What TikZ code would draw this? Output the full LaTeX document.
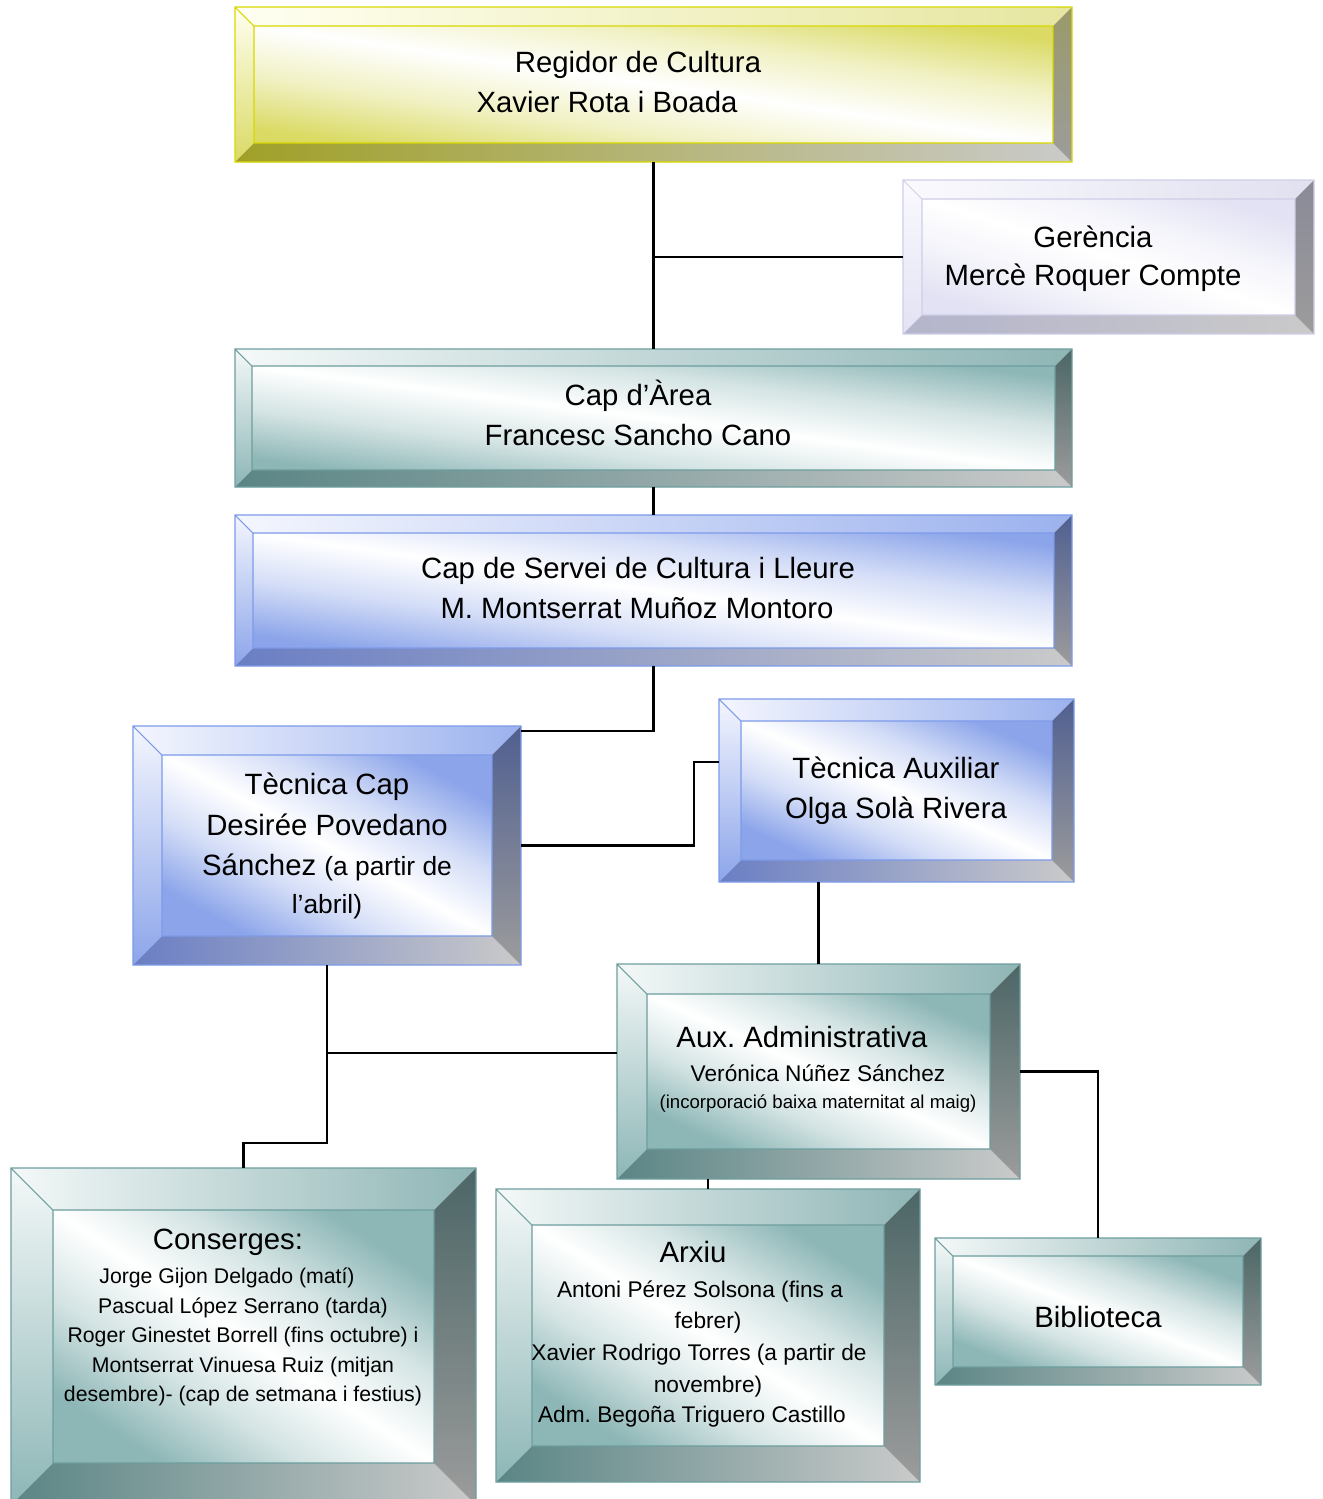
\documentclass[tikz,border=0pt]{standalone}
\usepackage{fontspec}
\setmainfont{Liberation Sans}
\usetikzlibrary{calc}
% colour schemes: W (light), T (top face right), L (inner corners), B (bottom face left), R (right face top), E (edge)
\definecolor{yelW}{HTML}{FFFFF2}\definecolor{yelT}{HTML}{E6E6A0}\definecolor{yelL}{HTML}{DADA64}
\definecolor{yelB}{HTML}{A0A028}\definecolor{yelR}{HTML}{9A9A6A}\definecolor{yelE}{HTML}{D8D800}
\definecolor{tealW}{HTML}{F4F8F8}\definecolor{tealT}{HTML}{8FB5B5}\definecolor{tealL}{HTML}{8DB6B6}
\definecolor{tealB}{HTML}{5B8585}\definecolor{tealR}{HTML}{4C6666}\definecolor{tealE}{HTML}{6E9E9E}
\definecolor{bluW}{HTML}{F4F6FE}\definecolor{bluT}{HTML}{9CB2EE}\definecolor{bluL}{HTML}{8CA5EA}
\definecolor{bluB}{HTML}{6A7EC4}\definecolor{bluR}{HTML}{505F90}\definecolor{bluE}{HTML}{7D9BEA}
\definecolor{lavW}{HTML}{FAFAFE}\definecolor{lavT}{HTML}{E0E0F0}\definecolor{lavL}{HTML}{E2E2F4}
\definecolor{lavB}{HTML}{B4B4CC}\definecolor{lavR}{HTML}{8A8A98}\definecolor{lavE}{HTML}{CFCFE8}
\definecolor{grayB}{HTML}{CACACA}\definecolor{grayR}{HTML}{9C9C9C}
\colorlet{bevL}{white}
\pgfdeclareverticalshading[bevL]{bevinner}{100bp}{%
  color(0bp)=(bevL); color(25bp)=(bevL); color(38bp)=(bevL!38!white);
  color(50bp)=(white); color(62bp)=(bevL!38!white);
  color(75bp)=(bevL); color(100bp)=(bevL)}
\newcommand\bevbox[7]{%
  % #1 name, #2 x1, #3 y1, #4 x2, #5 y2, #6 bevel, #7 scheme
  \colorlet{bevL}{#7L}%
  \pgfmathsetmacro\bevang{-atan((#5-#3-2*#6)/(#4-#2-2*#6))}%
  \shade[shading=bevinner, shading angle=\bevang]
    ({#2+#6},{#3+#6}) rectangle ({#4-#6},{#5-#6});
  \shade[left color=#7W, right color=#7T]
    (#2,#3) -- (#4,#3) -- ({#4-#6},{#3+#6}) -- ({#2+#6},{#3+#6}) -- cycle;
  \shade[top color=#7W, bottom color=#7L]
    (#2,#3) -- ({#2+#6},{#3+#6}) -- ({#2+#6},{#5-#6}) -- (#2,#5) -- cycle;
  \shade[left color=#7B, right color=grayB]
    (#2,#5) -- ({#2+#6},{#5-#6}) -- ({#4-#6},{#5-#6}) -- (#4,#5) -- cycle;
  \shade[top color=#7R, bottom color=grayR]
    (#4,#3) -- (#4,#5) -- ({#4-#6},{#5-#6}) -- ({#4-#6},{#3+#6}) -- cycle;
  \draw[#7E, line width=0.6pt]
    (#2,#3) rectangle (#4,#5) ({#2+#6},{#3+#6}) rectangle ({#4-#6},{#5-#6})
    (#2,#3) -- ({#2+#6},{#3+#6});
  \node[inner sep=0, outer sep=0, minimum width={(#4-#2)*0.02cm}, minimum height={(#5-#3)*0.02cm}]
    (#1) at ({(#2+#4)/2},{(#3+#5)/2}) {};
}
\tikzset{
  txt/.style={anchor=base, inner sep=0, text=black},
  fA/.style={font=\fontsize{16.7}{20}\selectfont},
  fS/.style={font=\fontsize{15}{18}\selectfont},
  fB/.style={font=\fontsize{12.9}{15}\selectfont},
  fC/.style={font=\fontsize{12.1}{15}\selectfont},
  fE/.style={font=\fontsize{12.9}{15}\selectfont},
  fD/.style={font=\fontsize{10.6}{13}\selectfont},
  link/.style={draw=black, line width=1.2pt}
}
\begin{document}
\frenchspacing
\begin{tikzpicture}[x=0.02cm, y=-0.02cm]
\useasboundingbox[fill=white] (0,0) rectangle (1323,1499);
\begin{scope}
\clip (0,0) rectangle (1323,1499);
% junction coordinates
\coordinate (j1) at (654,731);
\coordinate (j2) at (694,762);
\coordinate (j4) at (327,1143);
\coordinate (j5) at (327,1053);

% boxes
\bevbox{reg}{235}{7}{1072}{162}{19}{yel}
\bevbox{ger}{903}{180}{1314}{334}{19}{lav}
\bevbox{area}{235}{349}{1072}{487}{17}{teal}
\bevbox{serv}{235}{515}{1072}{666}{18}{blu}
\bevbox{tcap}{133}{726}{521}{965}{29}{blu}
\bevbox{taux}{719}{699}{1074}{882}{22}{blu}
\bevbox{aux}{617}{964}{1020}{1179}{30}{teal}
\bevbox{cons}{11}{1168}{476}{1505}{42}{teal}
\bevbox{arx}{496}{1189}{920}{1482}{36}{teal}
\bevbox{bib}{935}{1238}{1261}{1385}{18}{teal}

% connectors
\draw[link] (reg.south) -- (area.north);
\draw[link] (ger.west) -- (ger.west -| reg.south);
\draw[link] (area.south) -- (serv.north);
\draw[link] (serv.south) |- (tcap.east |- j1);
\draw[link] (tcap.east) -| (j2) -- (taux.west |- j2);
\draw[link] (aux.north) -- (aux.north |- taux.south);
\draw[link] (tcap.south) -- (j4) -| (cons.north);
\draw[link] (j5) -- (aux.west |- j5);
\draw[link] (arx.north) -- (arx.north |- aux.south);
\draw[link] (aux.east) -| (bib.north);

% texts
\node[txt,fA] (t-reg1) at (638,72) {Regidor de Cultura};
\node[txt,fA] (t-reg2) at (607,112) {Xavier Rota i Boada};
\node[txt,fA] (t-ger1) at (1093,247) {Gerència};
\node[txt,fA] (t-ger2) at (1093,285) {Mercè Roquer Compte};
\node[txt,fA] (t-area1) at (638,405) {Cap d’Àrea};
\node[txt,fA] (t-area2) at (638,445) {Francesc Sancho Cano};
\node[txt,fA] (t-serv1) at (638,578) {Cap de Servei de Cultura i Lleure};
\node[txt,fA] (t-serv2) at (637,618) {M. Montserrat Muñoz Montoro};
\node[txt,fA] (t-tcap1) at (327,794) {Tècnica Cap};
\node[txt,fA] (t-tcap2) at (327,835) {Desirée Povedano};
\node[txt,fA] (t-tcap3) at (327,875) {Sánchez {\fontsize{15}{18}\selectfont(a partir de}};
\node[txt,fS] (t-tcap4) at (327,913) {l’abril)};
\node[txt,fA] (t-taux1) at (896,778) {Tècnica Auxiliar};
\node[txt,fA] (t-taux2) at (896,818) {Olga Solà Rivera};
\node[txt,fA] (t-aux1) at (802,1047) {Aux. Administrativa};
\node[txt,fB] (t-aux2) at (818,1081) {Verónica Núñez Sánchez};
\node[txt,fD] (t-aux3) at (818,1108) {(incorporació baixa maternitat al maig)};
\node[txt,fA] (t-cons1) at (228,1249) {Conserges:};
\node[txt,fC] (t-cons2) at (227,1283) {Jorge Gijon Delgado (matí)};
\node[txt,fC] (t-cons3) at (243,1313) {Pascual López Serrano (tarda)};
\node[txt,fC] (t-cons4) at (243,1342) {Roger Ginestet Borrell (fins octubre) i};
\node[txt,fC] (t-cons5) at (243,1372) {Montserrat Vinuesa Ruiz (mitjan};
\node[txt,fC] (t-cons6) at (243,1401) {desembre)- (cap de setmana i festius)};
\node[txt,fA] (t-arx1) at (693,1262) {Arxiu};
\node[txt,fE] (t-arx2) at (700,1297) {Antoni Pérez Solsona (fins a};
\node[txt,fE] (t-arx3) at (708,1328) {febrer)};
\node[txt,fE] (t-arx4) at (699,1360) {Xavier Rodrigo Torres (a partir de};
\node[txt,fE] (t-arx5) at (708,1392) {novembre)};
\node[txt,fE] (t-arx6) at (692,1422) {Adm. Begoña Triguero Castillo};
\node[txt,fA] (t-bib) at (1098,1327) {Biblioteca};
\end{scope}
\end{tikzpicture}
\end{document}
